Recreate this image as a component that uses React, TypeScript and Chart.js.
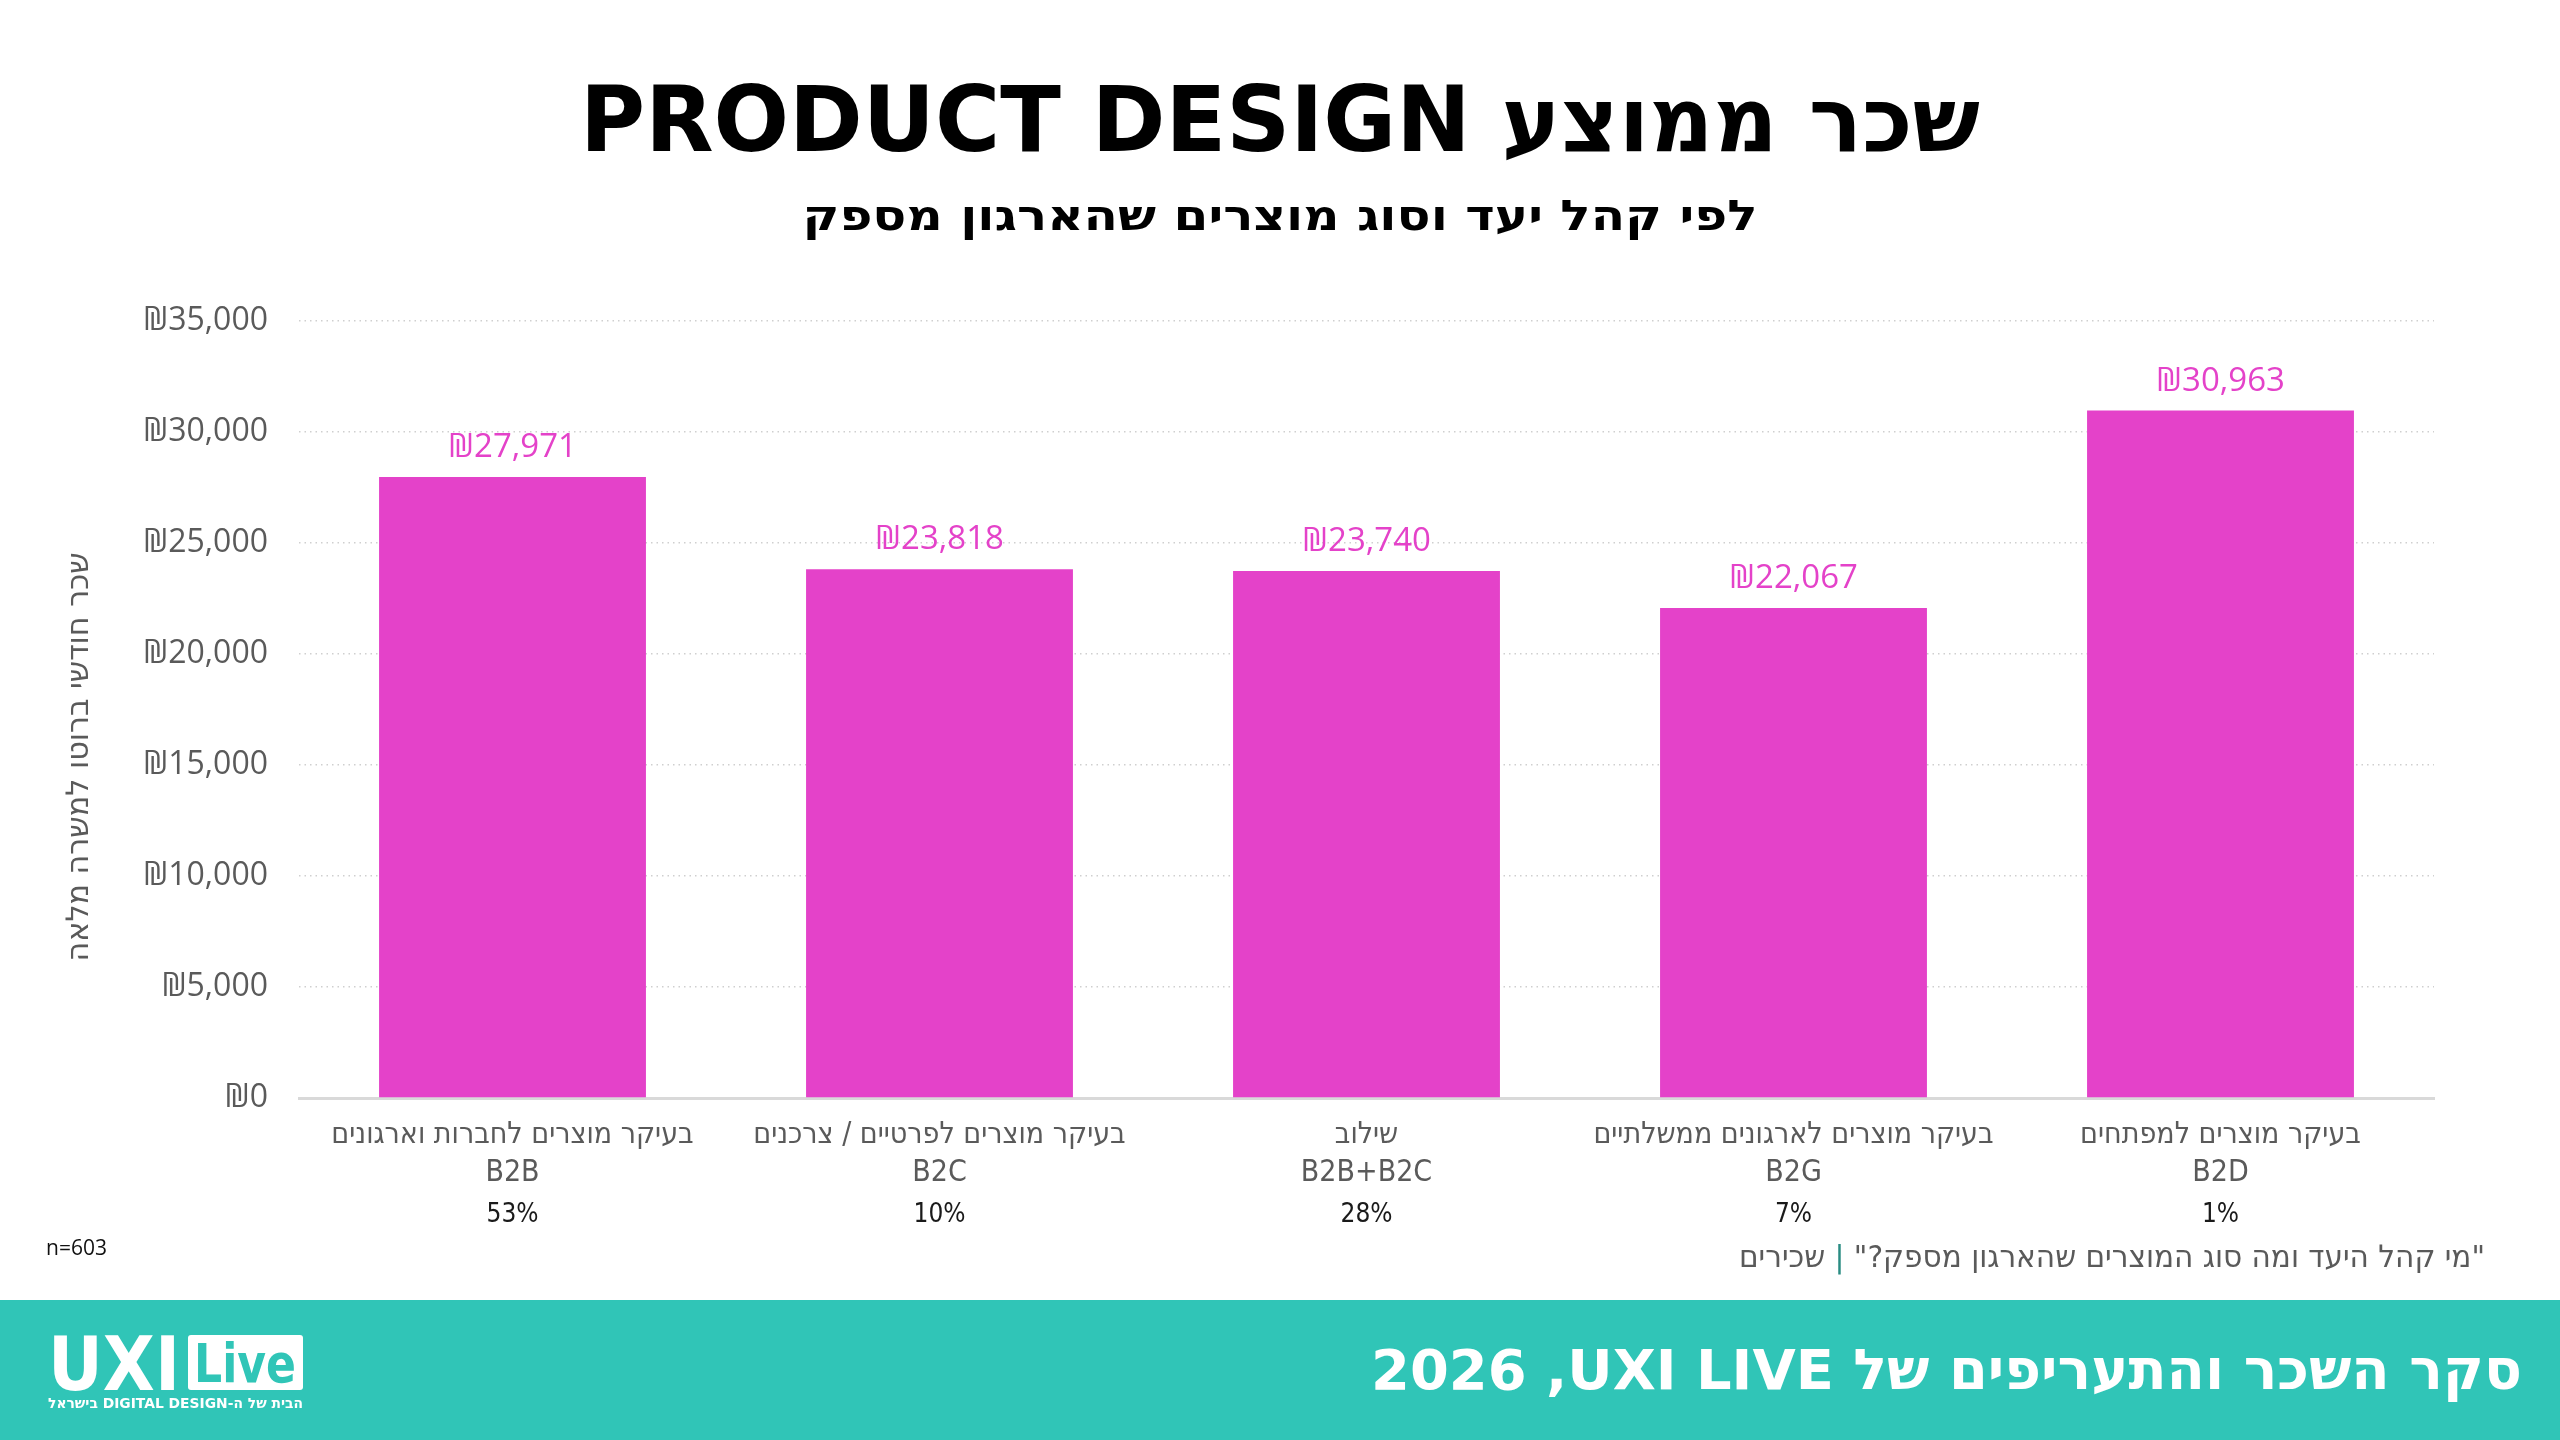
import React, { useEffect, useRef } from "react";
import { Chart, registerables } from "chart.js";

Chart.register(...registerables);

// ---- data ----
const categoryNames = [
  "בעיקר מוצרים לחברות וארגונים",
  "בעיקר מוצרים לפרטיים / צרכנים",
  "שילוב",
  "בעיקר מוצרים לארגונים ממשלתיים",
  "בעיקר מוצרים למפתחים",
];
const categoryCodes = ["B2B", "B2C", "B2B+B2C", "B2G", "B2D"];
const avgSalaries = [27971, 23818, 23740, 22067, 30963];
const respondentShares = ["53%", "10%", "28%", "7%", "1%"];
const yMin = 0;
const yMax = 35000;
const yStep = 5000;

const titleText = "שכר ממוצע PRODUCT DESIGN";
const subtitleText = "לפי קהל יעד וסוג מוצרים שהארגון מספק";
const yAxisTitle = "שכר חודשי ברוטו למשרה מלאה";
const sampleText = "n=603";
const sourceQuestion = "\"מי קהל היעד ומה סוג המוצרים שהארגון מספק?\"";
const sourceGroup = "שכירים";
const footerText = "סקר השכר והתעריפים של UXI LIVE\u200F, 2026";
const logoTagline = "הבית של ה-DIGITAL DESIGN בישראל";

// ---- style ----
const MAGENTA = "#E442C9";
const TEAL = "#30C5B7";
const GREY = "#5a5a5a";
const SANS = "'Open Sans', 'Noto Sans', 'DejaVu Sans', sans-serif";
const NARROW = "'Liberation Sans Narrow', 'DejaVu Sans Condensed', 'Liberation Sans', sans-serif";
const HEAVY = "'DejaVu Sans', 'Open Sans', sans-serif";

const fmtShekel = (v: number) => "₪" + Number(v).toLocaleString("en-US");

function fitText(
  ctx: CanvasRenderingContext2D,
  text: string,
  cx: number,
  baseline: number,
  width: number,
  font: string,
  color: string,
  dir: CanvasDirection
) {
  ctx.save();
  ctx.font = font;
  ctx.direction = dir;
  ctx.textAlign = "center";
  ctx.textBaseline = "alphabetic";
  const w = ctx.measureText(text).width || 1;
  ctx.translate(cx, baseline);
  ctx.scale(width / w, 1);
  ctx.fillStyle = color;
  ctx.fillText(text, 0, 0);
  ctx.restore();
}

const overlayPlugin = {
  id: "overlay",
  afterDraw(chart: any) {
    const ctx: CanvasRenderingContext2D = chart.ctx;
    const xScale = chart.scales.x;
    const meta = chart.getDatasetMeta(0);

    // value labels above bars
    ctx.save();
    ctx.font = `400 33px ${SANS}`;
    ctx.fillStyle = MAGENTA;
    ctx.textAlign = "center";
    ctx.textBaseline = "alphabetic";
    ctx.direction = "ltr";
    meta.data.forEach((bar: any, i: number) => {
      ctx.fillText(fmtShekel(avgSalaries[i]), bar.x, bar.y - 20);
    });
    ctx.restore();

    // share of respondents under category labels
    ctx.save();
    ctx.font = `400 26px ${NARROW}`;
    ctx.fillStyle = "#1a1a1a";
    ctx.textAlign = "center";
    ctx.textBaseline = "middle";
    respondentShares.forEach((s, i) => {
      ctx.fillText(s, xScale.getPixelForValue(i), 1215);
    });
    ctx.restore();

    // y axis title
    ctx.save();
    ctx.translate(77, 757);
    ctx.rotate(-Math.PI / 2);
    fitText(ctx, yAxisTitle, 0, 11, 409, `400 31px ${NARROW}`, GREY, "rtl");
    ctx.restore();

    // title + subtitle
    fitText(ctx, titleText, 1280, 151, 1400, `900 90px ${HEAVY}`, "#000", "rtl");
    fitText(ctx, subtitleText, 1280, 230, 955, `700 42px ${HEAVY}`, "#000", "rtl");

    // n
    ctx.save();
    ctx.font = `400 21px ${SANS}`;
    ctx.fillStyle = "#111";
    ctx.textAlign = "left";
    ctx.textBaseline = "alphabetic";
    ctx.fillText(sampleText, 46, 1255);
    ctx.restore();

    // source line
    ctx.save();
    ctx.font = `400 31px ${NARROW}`;
    ctx.direction = "rtl";
    ctx.textAlign = "right";
    ctx.textBaseline = "alphabetic";
    const wA = ctx.measureText(sourceQuestion).width;
    const wS = ctx.measureText(" ").width;
    const wP = ctx.measureText("|").width;
    const wC = ctx.measureText(sourceGroup).width;
    const total = wA + wS * 2 + wP + wC;
    ctx.translate(2485, 1267);
    ctx.scale(746 / total, 1);
    ctx.fillStyle = GREY;
    ctx.fillText(sourceQuestion, 0, 0);
    ctx.fillStyle = "#2a8c83";
    ctx.fillText("|", -(wA + wS), 0);
    ctx.fillStyle = GREY;
    ctx.fillText(sourceGroup, -(wA + wS * 2 + wP), 0);
    ctx.restore();

    // footer band
    ctx.save();
    ctx.fillStyle = TEAL;
    ctx.fillRect(0, 1300, 2560, 140);
    ctx.restore();
    fitText(ctx, footerText, 1946.5, 1389, 1151, `900 56px ${HEAVY}`, "#fff", "rtl");

    // logo
    fitText(ctx, "UXI", 114, 1390, 132, `900 74px ${HEAVY}`, "#fff", "ltr");
    ctx.save();
    ctx.fillStyle = "#fff";
    ctx.beginPath();
    (ctx as any).roundRect(188, 1335, 115, 55, 3);
    ctx.fill();
    ctx.restore();
    fitText(ctx, "Live", 245, 1382, 102, `700 54px ${HEAVY}`, TEAL, "ltr");
    fitText(ctx, logoTagline, 175.5, 1408, 255, `700 14px ${HEAVY}`, "#fff", "rtl");
  },
};

export default function App() {
  const canvasRef = useRef<HTMLCanvasElement | null>(null);

  useEffect(() => {
    const canvas = canvasRef.current;
    if (!canvas) return;
    const chart = new Chart(canvas, {
      type: "bar",
      data: {
        labels: categoryNames.map((n, i) => [n, categoryCodes[i]]),
        datasets: [
          {
            data: avgSalaries,
            backgroundColor: MAGENTA,
            borderWidth: 0,
            barPercentage: 0.625,
            categoryPercentage: 1,
          },
        ],
      },
      options: {
        animation: false,
        responsive: false,
        devicePixelRatio: 1,
        layout: { padding: { left: 0, right: 126, top: 321, bottom: 0 } },
        plugins: {
          legend: { display: false },
          tooltip: { enabled: false },
          title: { display: false },
        },
        scales: {
          x: {
            grid: { display: false, drawTicks: false },
            border: { display: true, color: "#d9d9d9", width: 3 },
            ticks: {
              color: GREY,
              font: { family: NARROW, size: 30, lineHeight: 1.27 },
              padding: 18,
              maxRotation: 0,
              autoSkip: false,
            },
            afterFit: (scale: any) => {
              scale.height = 342;
            },
          },
          y: {
            min: yMin,
            max: yMax,
            grid: { color: "#cfcfcf", lineWidth: 1.5, drawTicks: false },
            border: { display: false, dash: [1.5, 4] },
            ticks: {
              stepSize: yStep,
              color: GREY,
              font: { family: SANS, size: 32 },
              padding: 31,
              callback: (v: any) => fmtShekel(Number(v)),
            },
            afterFit: (scale: any) => {
              scale.width = 299;
            },
          },
        },
      },
      plugins: [overlayPlugin],
    });
    return () => chart.destroy();
  }, []);

  return (
    <div style={{ position: "absolute", left: 0, top: 0, width: 2560, height: 1440, background: "#fff" }}>
      <canvas ref={canvasRef} width={2560} height={1440} style={{ width: 2560, height: 1440, display: "block" }} />
    </div>
  );
}
